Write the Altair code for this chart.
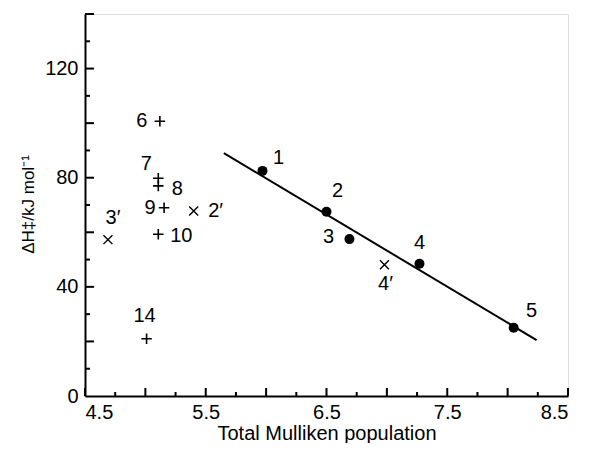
import altair as alt
import pandas as pd

# filled circles (compounds 1-5)
circ_label = ["1", "2", "3", "4", "5"]
circ_x = [5.97, 6.50, 6.69, 7.27, 8.05]
circ_y = [82.5, 67.5, 57.5, 48.5, 25.0]

# crosses (x) compounds 2', 3', 4'
cross_label = ["2′", "3′", "4′"]
cross_x = [5.40, 4.69, 6.98]
cross_y = [67.8, 57.3, 48.1]

# plus signs compounds 6-10, 14
plus_label = ["6", "7", "8", "9", "10", "14"]
plus_x = [5.12, 5.107, 5.107, 5.155, 5.107, 5.01]
plus_y = [100.7, 79.8, 77.0, 69.0, 59.3, 21.0]

# regression line end points
line_x = [5.65, 8.24]
line_y = [89.0, 20.5]

x_ticks_major = [4.5, 5.0, 5.5, 6.0, 6.5, 7.0, 7.5, 8.0, 8.5]
x_ticks_minor = [4.75, 5.25, 5.75, 6.25, 6.75, 7.25, 7.75, 8.25]
x_labels = [4.5, 5.5, 6.5, 7.5, 8.5]
y_ticks_major = [20, 40, 60, 80, 100, 120, 140]
y_ticks_minor = [10, 30, 50, 70, 90, 110, 130]
y_labels = [0, 40, 80, 120]

FONT = "Liberation Sans"
W, H = 483, 382

xs = alt.Scale(domain=[4.5, 8.5], nice=False, zero=False)
ys = alt.Scale(domain=[0, 140], nice=False)

xax = alt.Axis(values=x_labels, format=".1f", ticks=False, tickSize=0, grid=False,
               domainColor="black", domainWidth=2, labelColor="black",
               labelFont=FONT, labelFontSize=20, labelPadding=6,
               title="Total Mulliken population", titleFont=FONT, titleFontSize=20,
               titleFontWeight="normal", titleColor="black",
               titleBaseline="alphabetic", titleY=43)
yax = alt.Axis(values=y_labels, format="d", ticks=False, tickSize=0, grid=False,
               domainColor="black", domainWidth=2, labelColor="black",
               labelFont=FONT, labelFontSize=20, labelPadding=7,
               title="ΔH‡/kJ mol⁻¹", titleFont=FONT, titleFontSize=17,
               titleFontWeight="normal", titleColor="black",
               titleAngle=270, titleBaseline="alphabetic", titleX=-52, titleY=190)

circ_df = pd.DataFrame({"x": circ_x, "y": circ_y, "label": circ_label})
cross_df = pd.DataFrame({"x": cross_x, "y": cross_y, "label": cross_label})
plus_df = pd.DataFrame({"x": plus_x, "y": plus_y, "label": plus_label})
line_df = pd.DataFrame({"x": line_x, "y": line_y})

base_axes = alt.Chart(line_df).mark_line(color="black", strokeWidth=2).encode(
    x=alt.X("x:Q", scale=xs, axis=xax),
    y=alt.Y("y:Q", scale=ys, axis=yax),
)

layers = [base_axes]

# inward ticks
layers.append(alt.Chart(pd.DataFrame({"v": y_ticks_major})).mark_rule(color="black", strokeWidth=2).encode(
    y=alt.Y("v:Q", scale=ys), x=alt.value(0), x2=alt.value(9)))
layers.append(alt.Chart(pd.DataFrame({"v": y_ticks_minor})).mark_rule(color="black", strokeWidth=2).encode(
    y=alt.Y("v:Q", scale=ys), x=alt.value(0), x2=alt.value(5)))
layers.append(alt.Chart(pd.DataFrame({"v": x_ticks_major})).mark_rule(color="black", strokeWidth=2).encode(
    x=alt.X("v:Q", scale=xs), y=alt.value(H), y2=alt.value(H - 8)))
layers.append(alt.Chart(pd.DataFrame({"v": x_ticks_minor})).mark_rule(color="black", strokeWidth=2).encode(
    x=alt.X("v:Q", scale=xs), y=alt.value(H), y2=alt.value(H - 4)))

layers.append(alt.Chart(circ_df).mark_point(shape="circle", filled=True, color="black", size=100, opacity=1).encode(
    x=alt.X("x:Q", scale=xs), y=alt.Y("y:Q", scale=ys)))
layers.append(alt.Chart(plus_df).mark_point(shape="M-1,0L1,0M0,-1L0,1", filled=False, color="black",
                                           strokeWidth=1.6, size=110, opacity=1).encode(
    x=alt.X("x:Q", scale=xs), y=alt.Y("y:Q", scale=ys)))
layers.append(alt.Chart(cross_df).mark_point(shape="M-1,-1L1,1M-1,1L1,-1", filled=False, color="black",
                                            strokeWidth=1.4, size=80, opacity=1).encode(
    x=alt.X("x:Q", scale=xs), y=alt.Y("y:Q", scale=ys)))

# label offsets (pixels) relative to each point
offsets = {
    "1": (16, -13), "2": (11, -21), "3": (-21, -2), "4": (0, -21), "5": (18, -17),
    "2′": (22, 0), "3′": (5, -22), "4′": (1, 19),
    "6": (-18, 0), "7": (-12, -14), "8": (19, 3), "9": (-14, 0), "10": (23, 2), "14": (-2, -23),
}
all_df = pd.concat([circ_df, cross_df, plus_df], ignore_index=True)
for lab, (dx, dy) in offsets.items():
    sub = all_df[all_df["label"] == lab]
    layers.append(alt.Chart(sub).mark_text(font=FONT, fontSize=20, color="black", dx=dx, dy=dy,
                                           align="center", baseline="middle").encode(
        x=alt.X("x:Q", scale=xs), y=alt.Y("y:Q", scale=ys), text="label:N"))

chart = alt.layer(*layers).properties(
    width=W, height=H,
    autosize=alt.AutoSizeParams(type="none"),
    padding={"left": 77, "top": 6, "right": 16, "bottom": 47},
).configure_view(stroke=None).configure(background="white")

chart.save("out.html", embed_options={"renderer": "svg", "actions": False})
